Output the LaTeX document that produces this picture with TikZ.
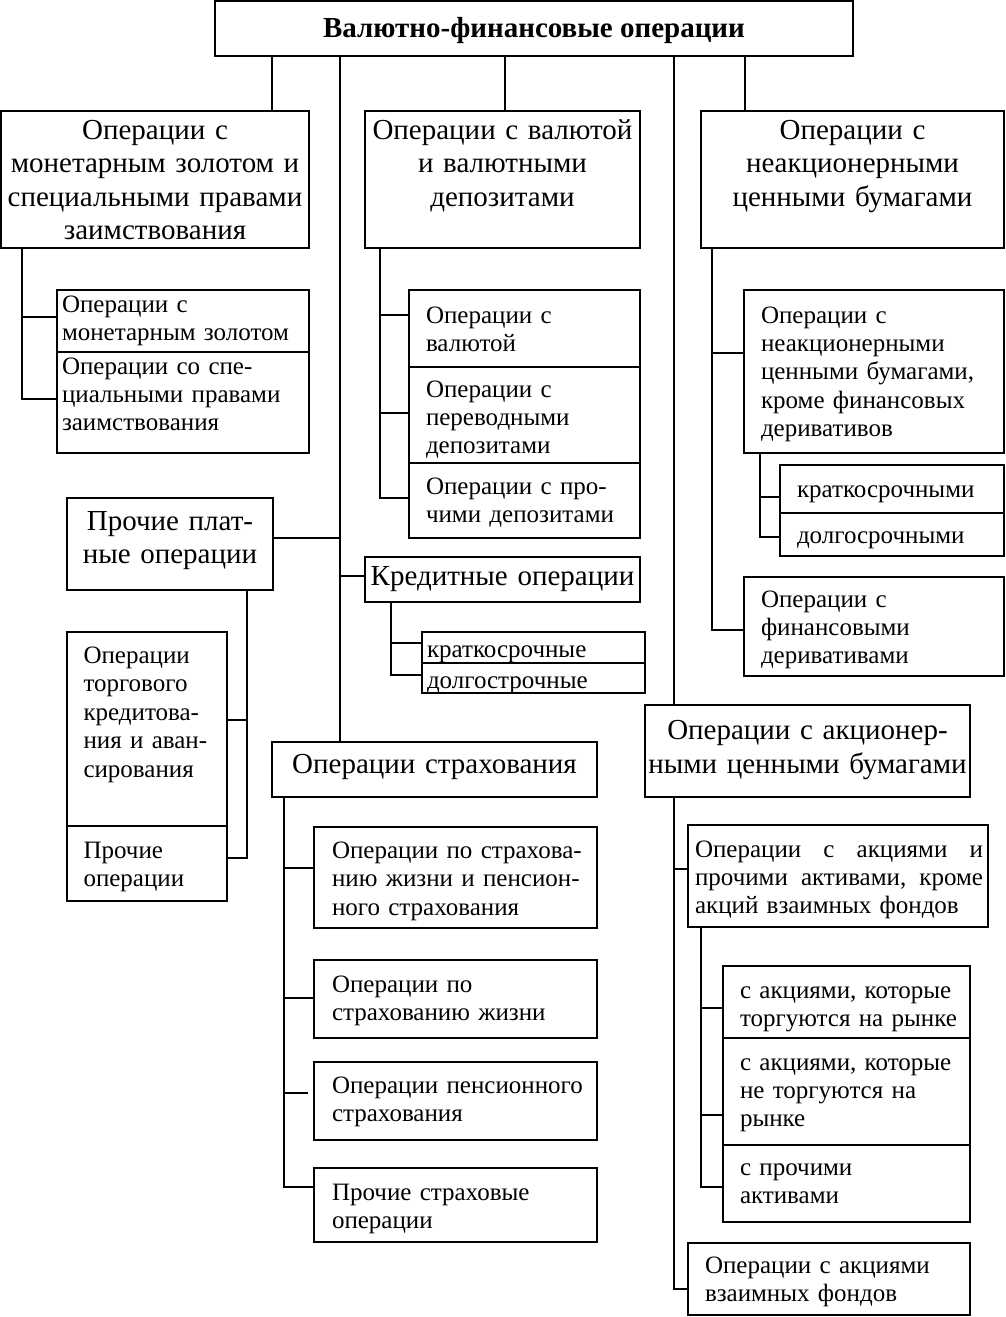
\documentclass[tikz,border=0pt]{standalone}
\usepackage{fontspec}
\setmainfont{Liberation Serif}
\newcommand\mybox[5]{\node[box, minimum width={#4-#2}, minimum height={#5-#3}] (#1) at (#2,#3) {};}
\begin{document}
\begin{tikzpicture}[x=1pt,y=-1pt,
  box/.style={draw, line width=1.9pt, inner sep=0pt, outer sep=0pt, anchor=north west},
  ln/.style={line width=1.9pt},
  bigt/.style={font=\fontsize{29}{33.5}\selectfont, inner sep=0pt, outer sep=0pt, anchor=base, align=center},
  smallt/.style={font=\fontsize{25}{28.4}\selectfont, inner sep=0pt, outer sep=0pt, anchor=base west, align=left}]
\useasboundingbox (0,0) rectangle (1005,1317);
% boxes
\mybox{T}{215}{1}{853}{56}
\mybox{A}{1}{111}{309}{248}
\mybox{B}{365}{111}{640}{248}
\mybox{C}{701}{111}{1004}{248}
\mybox{A1}{57}{290}{309}{352}
\mybox{A2}{57}{352}{309}{453}
\mybox{B1}{409}{290}{640}{367}
\mybox{B2}{409}{367}{640}{463}
\mybox{B3}{409}{463}{640}{538}
\mybox{PP}{67}{498}{273}{590}
\mybox{Kr}{365}{557}{640}{602}
\mybox{K1}{422}{632}{645}{663}
\mybox{K2}{422}{663}{645}{693}
\mybox{C1}{744}{290}{1004}{453}
\mybox{CK1}{780}{465}{1004}{513}
\mybox{CK2}{780}{513}{1004}{556}
\mybox{C2}{744}{577}{1004}{676}
\mybox{P1}{67}{632}{227}{826}
\mybox{P2}{67}{826}{227}{901}
\mybox{Ins}{272}{742}{597}{797}
\mybox{I1}{314}{827}{597}{928}
\mybox{I2}{314}{960}{597}{1038}
\mybox{I3}{314}{1062}{597}{1140}
\mybox{I4}{314}{1168}{597}{1242}
\mybox{Akc}{645}{705}{970}{797}
\mybox{D1}{688}{825}{988}{927}
\mybox{D2}{723}{966}{970}{1038}
\mybox{D3}{723}{1038}{970}{1145}
\mybox{D4}{723}{1145}{970}{1222}
\mybox{D5}{688}{1243}{970}{1315}
% texts
\node[font=\fontsize{29}{33}\selectfont\bfseries, inner sep=0pt, anchor=base] (T-t) at (534,37) {Валютно-финансовые операции};
\node[bigt, text width=308pt] (A-t) at (155,139) {Операции с\\монетарным золотом и\\специальными правами\\заимствования};
\node[bigt, text width=275pt] (B-t) at (502.5,139) {Операции с валютой\\и валютными\\депозитами};
\node[bigt, text width=303pt] (C-t) at (852.5,139) {Операции с\\неакционерными\\ценными бумагами};
\node[bigt, text width=206pt] (PP-t) at (170,530) {Прочие плат-\\ные операции};
\node[bigt, text width=275pt] (Kr-t) at (502.5,585) {Кредитные операции};
\node[bigt, text width=325pt] (Ins-t) at (434.5,773) {Операции страхования};
\node[bigt, text width=325pt] (Akc-t) at (807.5,739.5) {Операции с акционер-\\ными ценными бумагами};
\node[smallt, text width=245pt] (A1-t) at (62,312) {Операции с\\монетарным золотом};
\node[smallt, text width=245pt] (A2-t) at (62,374) {Операции со спе-\\циальными правами\\заимствования};
\node[smallt, text width=212pt] (B1-t) at (426,323) {Операции с\\валютой};
\node[smallt, text width=212pt] (B2-t) at (426,397) {Операции с\\переводными\\депозитами};
\node[smallt, text width=212pt] (B3-t) at (426,494) {Операции с про-\\чими депозитами};
\node[smallt, text width=216pt] (K1-t) at (427,657) {краткосрочные};
\node[smallt, text width=216pt] (K2-t) at (427,688) {долгострочные};
\node[smallt, text width=241pt] (C1-t) at (761,323) {Операции с\\неакционерными\\ценными бумагами,\\кроме финансовых\\деривативов};
\node[smallt, text width=205pt] (CK1-t) at (797,497) {краткосрочными};
\node[smallt, text width=205pt] (CK2-t) at (797,543) {долгосрочными};
\node[smallt, text width=241pt] (C2-t) at (761,607) {Операции с\\финансовыми\\деривативами};
\node[smallt, text width=141pt] (P1-t) at (83.5,663.5) {Операции\\торгового\\кредитова-\\ния и аван-\\сирования};
\node[smallt, text width=141pt] (P2-t) at (83.5,858.5) {Прочие\\операции};
\node[smallt, text width=263pt] (I1-t) at (332,858.3) {Операции по страхова-\\нию жизни и пенсион-\\ного страхования};
\node[smallt, text width=263pt] (I2-t) at (332,992) {Операции по\\страхованию жизни};
\node[smallt, text width=263pt] (I3-t) at (332,1093.5) {Операции пенсионного\\страхования};
\node[smallt, text width=263pt] (I4-t) at (332,1200) {Прочие страховые\\операции};
\node[smallt, text width=288pt] (D1-t) at (695,857) {\makebox[288pt][l]{Операции\hfill с\hfill акциями\hfill и}\\\makebox[288pt][l]{прочими\hfill активами,\hfill кроме}\\акций взаимных фондов};
\node[smallt, text width=228pt] (D2-t) at (740,998) {с акциями, которые\\торгуются на рынке};
\node[smallt, text width=228pt] (D3-t) at (740,1070) {с акциями, которые\\не торгуются на\\рынке};
\node[smallt, text width=228pt] (D4-t) at (740,1175) {с прочими\\активами};
\node[smallt, text width=263pt] (D5-t) at (705,1273.5) {Операции с акциями\\взаимных фондов};
% bus coordinates
\coordinate (tA) at (272,0);
\coordinate (tB) at (505,0);
\coordinate (tC) at (745,0);
\coordinate (trL) at (340,0);
\coordinate (trR) at (674,0);
\coordinate (bA) at (22,0);
\coordinate (bB) at (380,0);
\coordinate (bK) at (391,0);
\coordinate (bC) at (712,0);
\coordinate (bCK) at (760,0);
\coordinate (bP) at (247,0);
\coordinate (bI) at (284,0);
\coordinate (bD) at (701,0);
% connectors
\draw[ln] (T.south -| tA) -- (A.north -| tA);
\draw[ln] (T.south -| tB) -- (B.north -| tB);
\draw[ln] (T.south -| tC) -- (C.north -| tC);
\draw[ln] (T.south -| trL) -- (Ins.north -| trL);
\draw[ln] (T.south -| trR) -- (Akc.north -| trR);
\draw[ln] ([yshift=6pt]PP.east) -- ([yshift=6pt]PP.east -| trL);
\draw[ln] ([yshift=3.5pt]Kr.west -| trL) -- ([yshift=3.5pt]Kr.west);
\draw[ln] (A.south -| bA) |- ([yshift=4pt]A1.west);
\draw[ln] (A.south -| bA) |- ([yshift=3.5pt]A2.west);
\draw[ln] (B.south -| bB) |- ([yshift=13.5pt]B1.west);
\draw[ln] (B.south -| bB) |- ([yshift=2pt]B2.west);
\draw[ln] (B.south -| bB) |- ([yshift=2.5pt]B3.west);
\draw[ln] (Kr.south -| bK) |- ([yshift=4.5pt]K1.west);
\draw[ln] (Kr.south -| bK) |- ([yshift=3pt]K2.west);
\draw[ln] (C.south -| bC) |- ([yshift=18.5pt]C1.west);
\draw[ln] (C.south -| bC) |- ([yshift=-3.5pt]C2.west);
\draw[ln] (C1.south -| bCK) |- ([yshift=-8pt]CK1.west);
\draw[ln] (C1.south -| bCK) |- ([yshift=-2.5pt]CK2.west);
\draw[ln] (PP.south -| bP) |- ([yshift=9pt]P1.east);
\draw[ln] (PP.south -| bP) |- ([yshift=5.5pt]P2.east);
\draw[ln] (Ins.south -| bI) |- ([yshift=9.5pt]I1.west);
\draw[ln] (Ins.south -| bI) |- ([yshift=1pt]I2.west);
\draw[ln] (Ins.south -| bI) |- ([yshift=18pt]I4.west);
\draw[ln] ([yshift=8pt]I3.west -| bI) -- ([xshift=-6pt,yshift=8pt]I3.west);
\draw[ln] (Akc.south -| trR) |- ([yshift=7pt]D1.west);
\draw[ln] (Akc.south -| trR) |- ([yshift=-10pt]D5.west);
\draw[ln] (D1.south -| bD) |- ([yshift=-6pt]D2.west);
\draw[ln] (D1.south -| bD) |- ([yshift=-23.5pt]D3.west);
\draw[ln] (D1.south -| bD) |- ([yshift=-3.5pt]D4.west);
\end{tikzpicture}
\end{document}
